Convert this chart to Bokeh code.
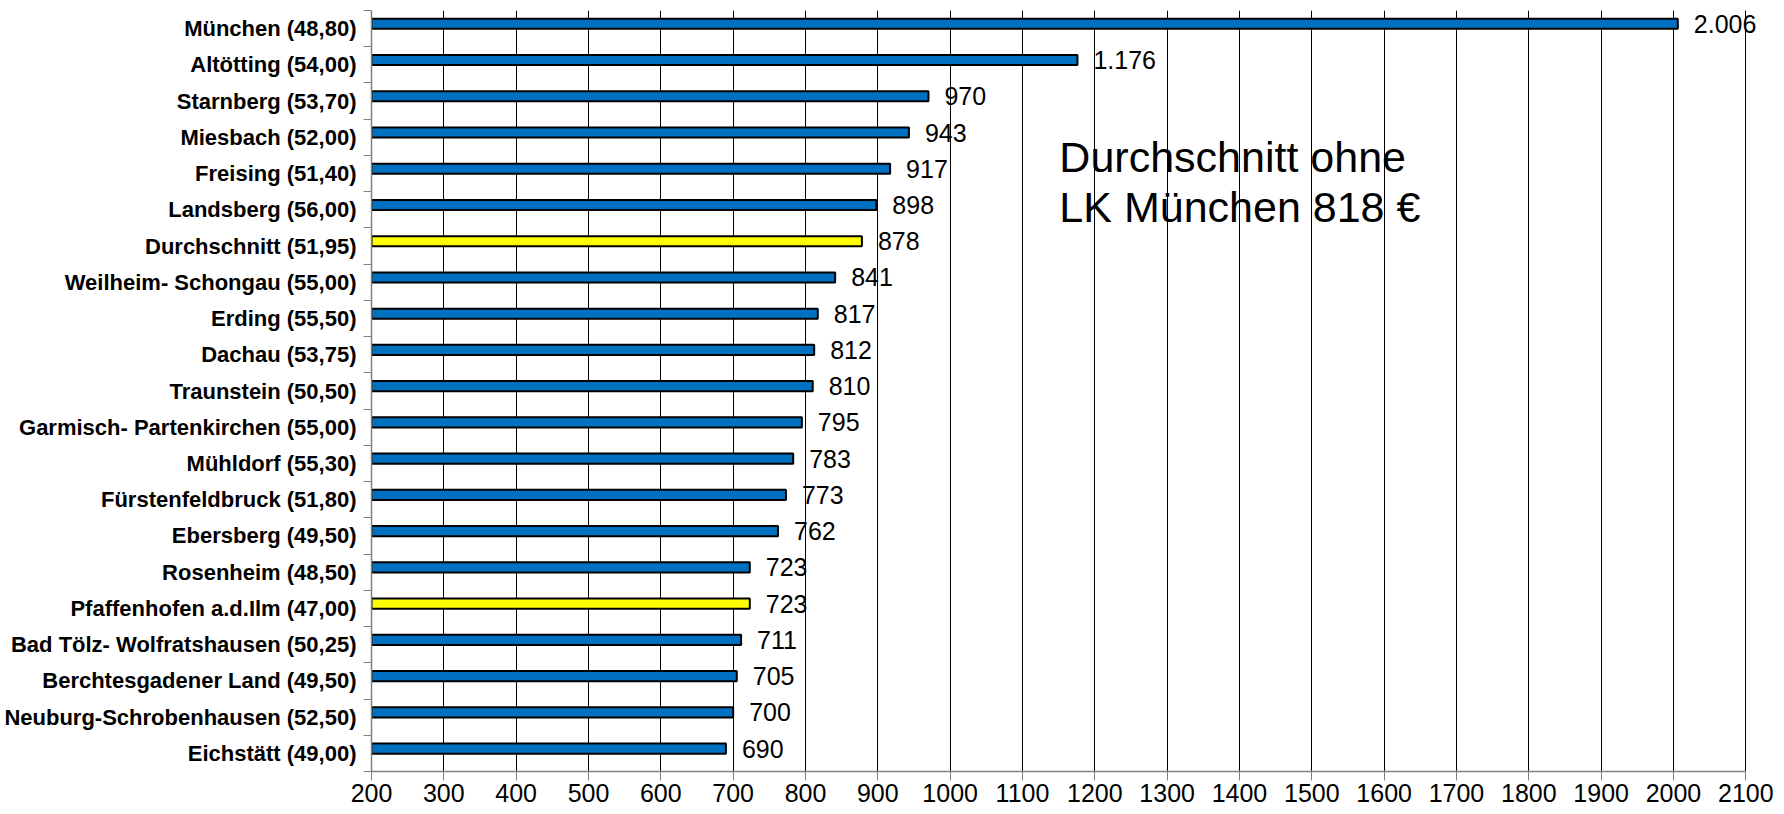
from bokeh.plotting import figure
from bokeh.models import Range1d, FixedTicker, ColumnDataSource, Label, LabelSet
from bokeh.core.properties import value
from bokeh.embed import file_html
from bokeh.resources import INLINE

categories = [
    "München (48,80)", "Altötting (54,00)", "Starnberg (53,70)", "Miesbach (52,00)",
    "Freising (51,40)", "Landsberg (56,00)", "Durchschnitt (51,95)",
    "Weilheim- Schongau (55,00)", "Erding (55,50)", "Dachau (53,75)",
    "Traunstein (50,50)", "Garmisch- Partenkirchen (55,00)", "Mühldorf (55,30)",
    "Fürstenfeldbruck (51,80)", "Ebersberg (49,50)", "Rosenheim (48,50)",
    "Pfaffenhofen a.d.Ilm (47,00)", "Bad Tölz- Wolfratshausen (50,25)",
    "Berchtesgadener Land (49,50)", "Neuburg-Schrobenhausen (52,50)", "Eichstätt (49,00)",
]
values = [2006, 1176, 970, 943, 917, 898, 878, 841, 817, 812, 810, 795, 783, 773,
          762, 723, 723, 711, 705, 700, 690]
highlight = ["Durchschnitt (51,95)", "Pfaffenhofen a.d.Ilm (47,00)"]
x_ticks = list(range(200, 2101, 100))
note_lines = ["Durchschnitt ohne", "LK München 818 €"]

BLUE = "#0070C0"
YELLOW = "#FFFF00"
FONT = "Liberation Sans"

W, H = 1776, 812
LEFT, TOP, BOTTOM = 371, 10, 41
AXIS_PX = 1374.3  # pixel length of 200..2100

n = len(categories)
ypos = [n - 1 - i for i in range(n)]
bar_y = [y + 0.133 for y in ypos]
colors = [YELLOW if c in highlight else BLUE for c in categories]
labels = [f"{v:,}".replace(",", ".") for v in values]

src = ColumnDataSource(dict(cat=categories, val=values, y=ypos, by=bar_y,
                            color=colors, lab=labels))

x0, x1 = x_ticks[0], x_ticks[-1]
x_end = x0 + (W - LEFT) * (x1 - x0) / AXIS_PX  # frame extends right so labels aren't clipped

p = figure(width=W, height=H, output_backend="svg", toolbar_location=None,
           x_range=Range1d(x0, x_end), y_range=Range1d(-0.5, n - 0.5),
           min_border_left=LEFT, min_border_right=0, min_border_top=TOP,
           min_border_bottom=BOTTOM)
p.outline_line_color = None
p.background_fill_color = "white"
p.border_fill_color = "white"

p.hbar(y="by", left=x0, right="val", height=0.28, source=src,
       fill_color="color", line_color="black", line_width=2)

p.add_layout(LabelSet(x="val", y="by", text="lab", source=src, x_offset=16,
                      text_baseline="middle", text_align="left",
                      text_font=value(FONT), text_font_size=value("25px"),
                      text_color=value("black")))

# x axis
xa = p.xaxis[0]
xa.bounds = (x0, x1)
xa.ticker = FixedTicker(ticks=x_ticks)
xa.axis_line_color = "#808080"
xa.axis_line_width = 1.5
xa.major_tick_line_color = "#808080"
xa.major_tick_out = 9
xa.major_tick_in = 0
xa.minor_tick_line_color = None
xa.major_label_text_font = FONT
xa.major_label_text_font_size = "25px"
xa.major_label_text_color = "black"
xa.major_label_standoff = 3

# y axis
ya = p.yaxis[0]
ya.ticker = FixedTicker(ticks=ypos, minor_ticks=[k - 0.5 for k in range(n + 1)])
ya.major_label_overrides = {y: c for y, c in zip(ypos, categories)}
ya.axis_line_color = "#808080"
ya.axis_line_width = 1.5
ya.major_tick_line_color = None
ya.major_tick_out = 0
ya.major_tick_in = 0
ya.minor_tick_line_color = "#808080"
ya.minor_tick_out = 8
ya.minor_tick_in = 0
ya.major_label_text_font = FONT
ya.major_label_text_font_style = "bold"
ya.major_label_text_font_size = "22px"
ya.major_label_text_color = "black"
ya.major_label_standoff = 7

p.xgrid.ticker = FixedTicker(ticks=x_ticks[1:])
p.xgrid.grid_line_color = "black"
p.xgrid.grid_line_width = 1
p.ygrid.grid_line_color = None

for k, line in enumerate(note_lines):
    p.add_layout(Label(x=1151, y=16.45 - 1.38 * k, text=line,
                       text_font=FONT, text_font_size="43px",
                       text_color="black", text_baseline="alphabetic"))

open("out.html", "w").write(file_html(p, INLINE))
